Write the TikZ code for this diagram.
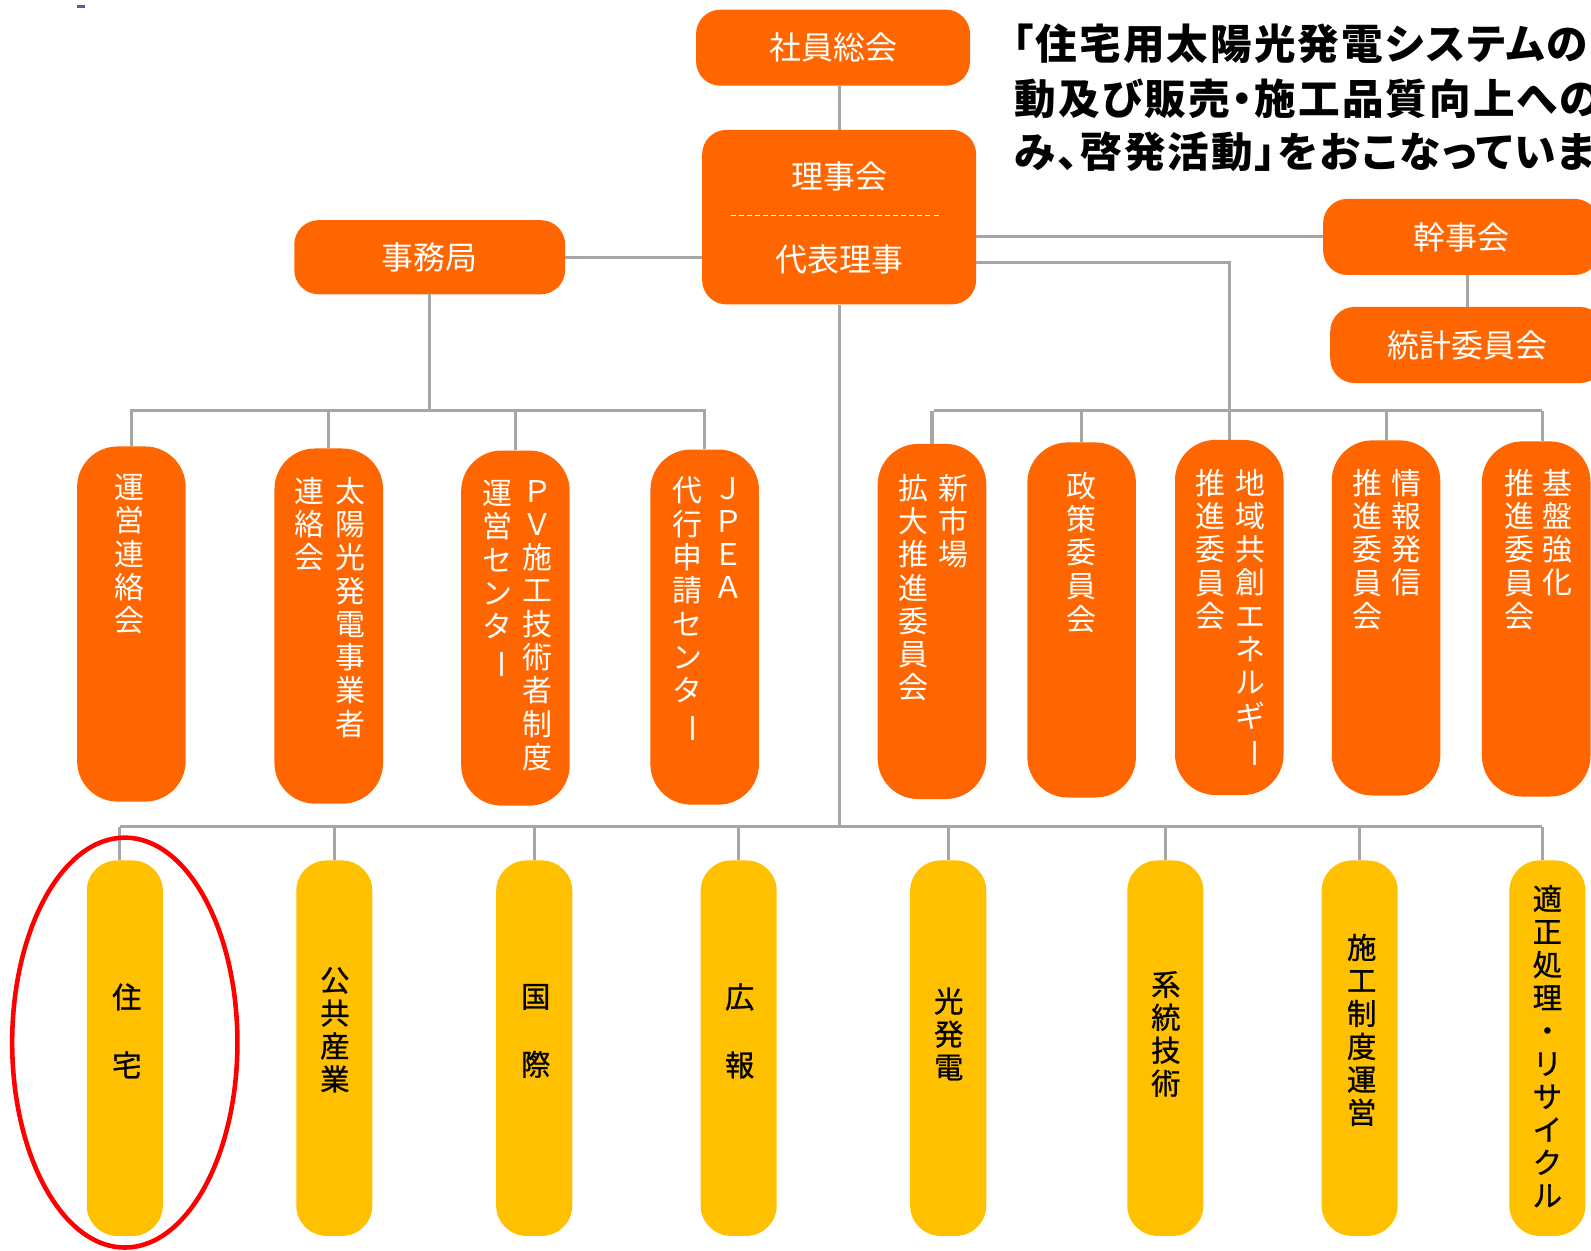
\documentclass[tikz,border=0pt]{standalone}
\usepackage{fontspec}
\setmainfont{Noto Sans CJK JP}
\newfontfamily\jpfont{Noto Sans CJK JP}
\newfontfamily\jpbold{Noto Sans CJK JP}[FakeBold=0.8]
\newfontfamily\hdfont{Noto Sans CJK JP}[RawFeature=+palt, LetterSpace=5]
\definecolor{jorange}{HTML}{FF6600}
\definecolor{jyellow}{HTML}{FFC000}
\definecolor{lgray}{HTML}{A6A6A6}
\newcommand\vchoon{\rotatebox[origin=c]{-90}{ー}}
\tikzset{
  conn/.style={draw=lgray, line width=3pt},
  topbox/.style={fill=jorange, rounded corners=24pt, minimum width=270pt, minimum height=75pt,
    inner sep=0pt, text=white, font={\jpfont\fontsize{31.5}{34}\selectfont}},
  toptxt/.style={inner sep=0pt, text=white, font={\jpfont\fontsize{31.5}{34}\selectfont}},
  tallbox/.style={fill=jorange, rounded corners=40pt, minimum width=107pt, minimum height=350pt, inner sep=0pt},
  ybox/.style={fill=jyellow, rounded corners=30pt, minimum width=75pt, minimum height=370pt, inner sep=0pt},
  vtxt/.style={text=white, align=center, anchor=north, inner sep=0pt, font={\jpfont\fontsize{29.5}{32.8}\selectfont}},
  ytxt/.style={text=black, align=center, inner sep=0pt, font={\jpbold\fontsize{29}{32.5}\selectfont}},
  ywide/.style={text=black, align=center, inner sep=0pt, font={\jpbold\fontsize{29}{67}\selectfont}},
  hd/.style={anchor=west, inner sep=0pt, text=black, font={\hdfont\bfseries\fontsize{41}{44}\selectfont}}
}
\begin{document}
\begin{tikzpicture}[x=1pt,y=-1pt]
\useasboundingbox (0,0) rectangle (1568,1232);
\clip (0,0) rectangle (1568,1232);
\fill[white] (0,0) rectangle (1568,1232);
\fill[color=blue!30!gray] (76,5) rectangle (84,7.5);

% heading (lines 2 and 3 run past the right edge, as in the original)
\node[hd] (h1) at (998,43) {「住宅用太陽光発電システムの};
\node[hd] (h2) at (1000,97) {動及び販売・施工品質向上への};
\node[hd] (h3) at (1000,150) {み、啓発活動」をおこなっています};

% top boxes
\node[topbox] (sou) at (821,47) {社員総会};
\node[topbox, minimum height=172pt] (rij) at (827,214) {};
\node[toptxt] (rijA) at (827,174) {理事会};
\node[toptxt] (rijB) at (827,256) {代表理事};
\draw[white, line width=1.2pt, dash pattern=on 5pt off 3pt]
  ([xshift=-107pt,yshift=2pt]rij.center) -- ([xshift=99pt,yshift=2pt]rij.center);
\node[topbox, minimum width=267pt, minimum height=73pt] (jim) at (423.5,253.5) {事務局};
\node[topbox, minimum width=272pt] (kan) at (1440,233.5) {幹事会};
\node[topbox] (tou) at (1446,340) {統計委員会};

% orange tall boxes
\node[tallbox] (o1) at (129.5,615) {};
\node[tallbox] (o2) at (324,617) {};
\node[tallbox] (o3) at (508,619) {};
\node[tallbox] (o4) at (694.5,618) {};
\node[tallbox] (o5) at (918.5,612.5) {};
\node[tallbox] (o6) at (1066,611) {};
\node[tallbox] (o7) at (1211.5,608.5) {};
\node[tallbox] (o8) at (1366,609) {};
\node[tallbox] (o9) at (1514,610) {};

\node[vtxt] (t1) at (128,467) {運\\営\\連\\絡\\会};
\node[vtxt] (t2a) at (345,470) {太\\陽\\光\\発\\電\\事\\業\\者};
\node[vtxt] (t2b) at (305,470) {連\\絡\\会};
\node[vtxt] (t3a) at (530,473) {Ｐ\\Ｖ\\施\\工\\技\\術\\者\\制\\度};
\node[vtxt] (t3b) at (490,473) {運\\営\\セ\\ン\\タ\\\vchoon};
\node[vtxt] (t4a) at (718,470) {Ｊ\\Ｐ\\Ｅ\\Ａ};
\node[vtxt] (t4b) at (678,470) {代\\行\\申\\請\\セ\\ン\\タ\\\vchoon};
\node[vtxt] (t5a) at (940,467) {新\\市\\場};
\node[vtxt] (t5b) at (900,467) {拡\\大\\推\\進\\委\\員\\会};
\node[vtxt] (t6) at (1066,465) {政\\策\\委\\員\\会};
\node[vtxt] (t7a) at (1232,462) {地\\域\\共\\創\\エ\\ネ\\ル\\ギ\\\vchoon};
\node[vtxt] (t7b) at (1193,462) {推\\進\\委\\員\\会};
\node[vtxt] (t8a) at (1386,462) {情\\報\\発\\信};
\node[vtxt] (t8b) at (1348,462) {推\\進\\委\\員\\会};
\node[vtxt] (t9a) at (1535,462) {基\\盤\\強\\化};
\node[vtxt] (t9b) at (1497,462) {推\\進\\委\\員\\会};

% yellow boxes
\node[ybox] (y1) at (123,1033) {};
\node[ybox] (y2) at (329.5,1033) {};
\node[ybox] (y3) at (526.5,1033) {};
\node[ybox] (y4) at (728,1033) {};
\node[ybox] (y5) at (934.5,1033) {};
\node[ybox] (y6) at (1148.5,1033) {};
\node[ybox] (y7) at (1340,1033) {};
\node[ybox] (y8) at (1525,1033) {};

\node[ywide] (u1) at (125,1016) {住\\宅};
\node[ytxt] (u2) at (330,1015) {公\\共\\産\\業};
\node[ywide] (u3) at (528,1016) {国\\際};
\node[ywide] (u4) at (729,1016) {広\\報};
\node[ytxt] (u5) at (935,1019) {光\\発\\電};
\node[ytxt] (u6) at (1149,1019) {系\\統\\技\\術};
\node[ytxt] (u7) at (1342,1015) {施\\工\\制\\度\\運\\営};
\node[ytxt] (u8) at (1525,1031) {適\\正\\処\\理\\・\\リ\\サ\\イ\\ク\\ル};

% bus coordinates
\coordinate (lbL) at (128,405);
\coordinate (lbR) at (696,405);
\coordinate (rbL) at (920,405);
\coordinate (rbR) at (1520,405);
\coordinate (bbL) at (118,815);
\coordinate (bbR) at (1520,815);

% connectors
\draw[conn] (rij.north |- sou.south) -- (rij.north);
\draw[conn] (jim.east) -- (rij.west |- jim.east);
\draw[conn] (rij.east |- kan.west) -- (kan.west);
\draw[conn] (tou.north |- kan.south) -- (tou.north);
\draw[conn] ([yshift=-45pt]rij.east) -| (o7.north |- rbL);
\draw[conn] (jim.south) -- (jim.south |- lbL);
\draw[conn] (lbL) -- (lbR);
\draw[conn] (rbL) -- (rbR);
\draw[conn] (rij.south) -- (rij.south |- bbL);
\draw[conn] (bbL) -- (bbR);
\foreach \o in {o1,o2,o3,o4}{
  \draw[conn] (\o.north |- lbL) -- (\o.north);
}
\foreach \o in {o5,o6,o7,o8}{
  \draw[conn] (\o.north |- rbL) -- (\o.north);
}
\draw[conn] (rbR) -- (rbR |- o9.north);
\draw[conn] (bbL) -- (bbL |- y1.north);
\foreach \y in {y2,y3,y4,y5,y6,y7}{
  \draw[conn] (\y.north |- bbL) -- (\y.north);
}
\draw[conn] (bbR) -- (bbR |- y8.north);

% red ellipse
\draw[red, line width=4.5pt] (123,1027.5) ellipse [x radius=111, y radius=202];
\end{tikzpicture}
\end{document}
